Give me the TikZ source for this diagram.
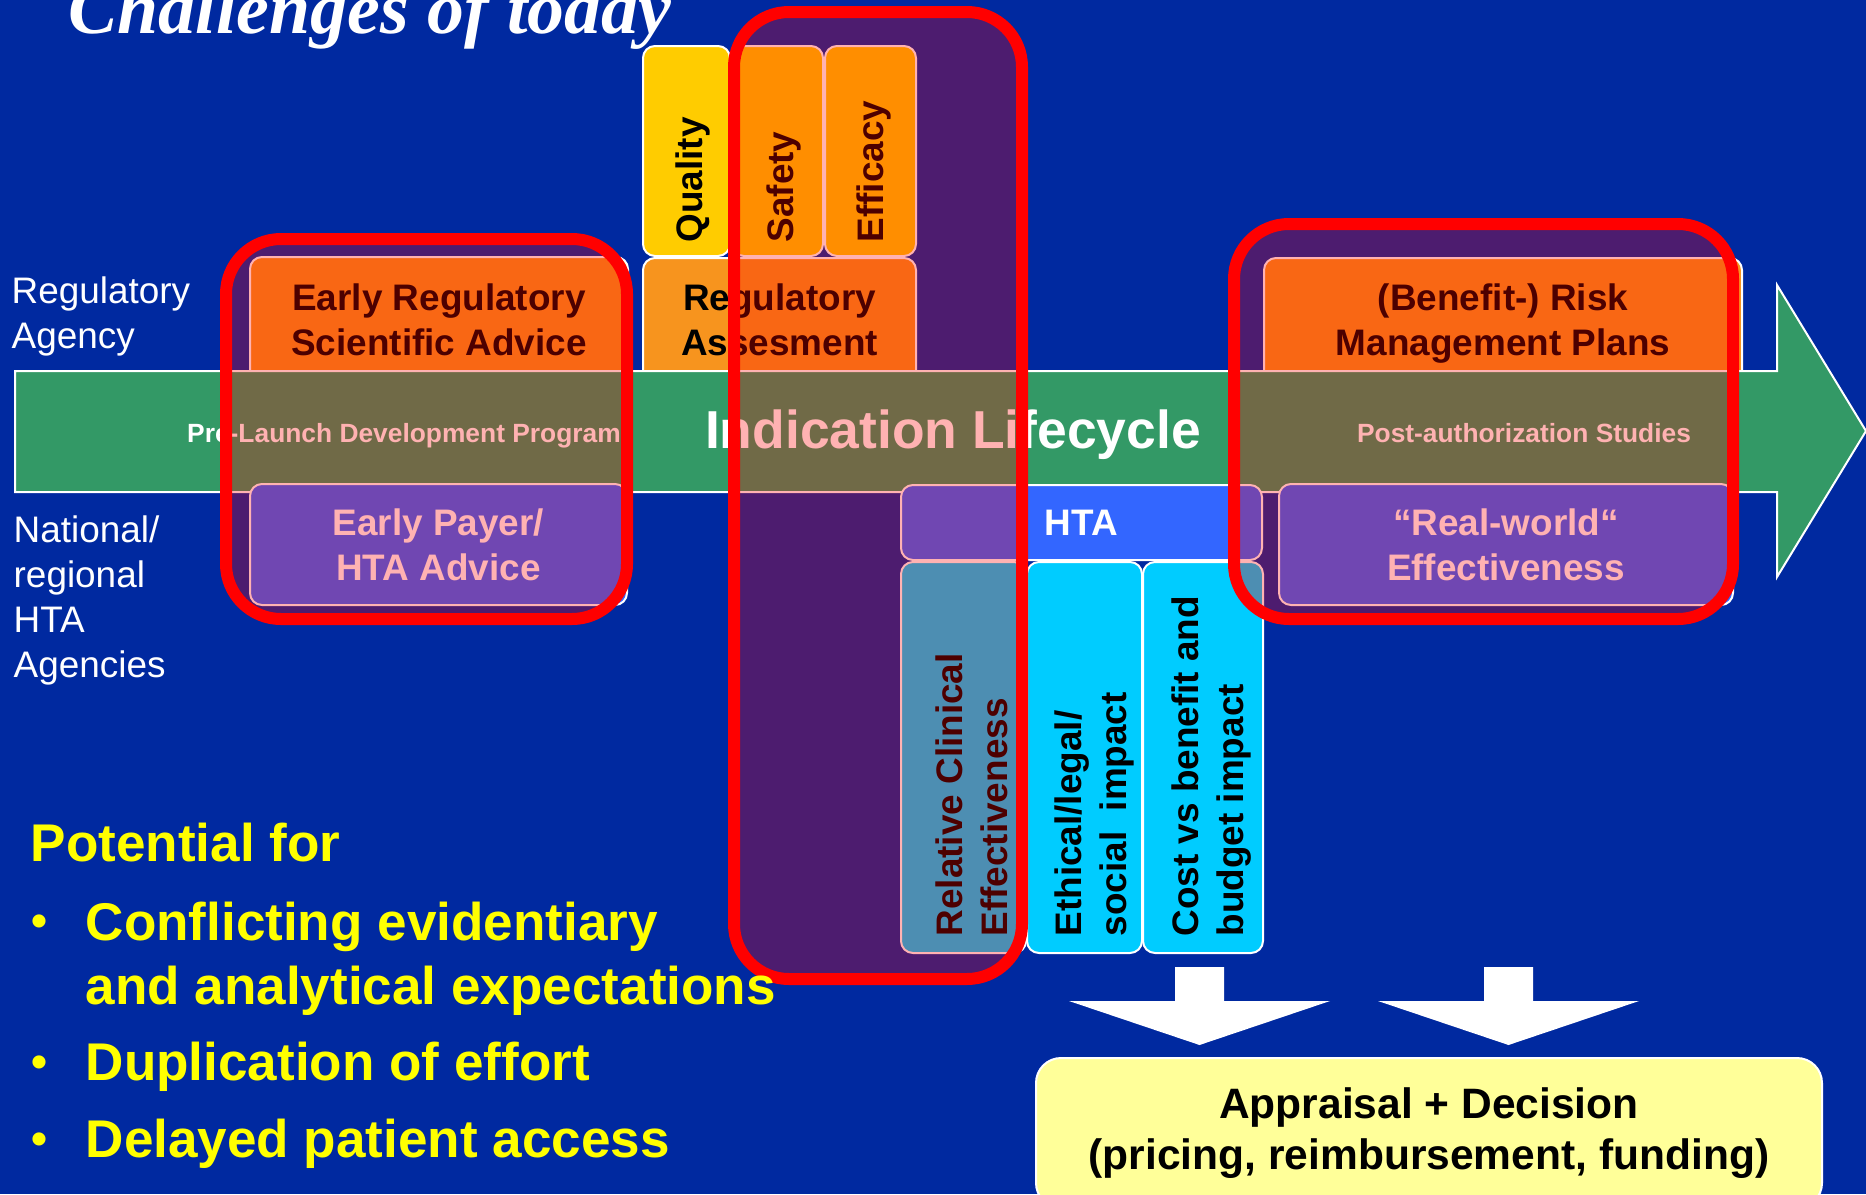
\documentclass[tikz,border=0pt]{standalone}
\usepackage{fontspec}
\setmainfont{Liberation Sans}
\newfontfamily\titlefont{Liberation Serif}
\usepackage{tikz}
\usetikzlibrary{positioning, calc}
\usepackage{xcolor}
\definecolor{slideBlue}{HTML}{0029A0}
\definecolor{lifeGreen}{HTML}{339966}
\definecolor{regOrange}{HTML}{F7941E}
\definecolor{regYellow}{HTML}{FFCC00}
\definecolor{htaBlue}{HTML}{3366FF}
\definecolor{htaCyan}{HTML}{00CCFF}
\definecolor{paleYellow}{HTML}{FFFF99}
\definecolor{textYellow}{HTML}{FFFF00}
\tikzset{
  node distance=0.2mm and 0.1mm,
  labeltxt/.style={text=white, font=\fontsize{10.5}{12.8}\selectfont, align=left, inner sep=0pt, anchor=north west},
  tile/.style={draw=white, line width=0.2mm, rounded corners=1.2mm, inner sep=0pt, outer sep=0pt, font=\fontsize{10.5}{12.8}\selectfont\bfseries, align=center},
  regbox/.style={tile, fill=regOrange, text=black},
  evbox/.style={tile, fill=regYellow, minimum height=21mm},
  htabox/.style={tile, fill=htaBlue, text=white},
  critbox/.style={tile, fill=htaCyan, minimum height=39.1mm},
  vtxt/.style={rotate=90, anchor=west, inner sep=0pt, font=\fontsize{10.5}{12.8}\selectfont\bfseries, align=left, text=black},
  bandtxt/.style={text=white, font=\fontsize{7.5}{9}\selectfont\bfseries, inner sep=0pt},
  hilite/.style={draw=red, line width=1.2mm, fill=red, fill opacity=0.3, rounded corners=5.5mm},
  pointtxt/.style={text=textYellow, font=\fontsize{15.1}{18.2}\selectfont\bfseries, align=left, inner sep=0pt}
}

\begin{document}
\begin{tikzpicture}[x=0.1mm, y=-0.1mm,
        lifearrow/.style={draw=white, line width=0.2mm, fill=lifeGreen},
        titletxt/.style={text=white, font=\titlefont\fontsize{21}{25}\selectfont\bfseries\itshape, inner sep=0pt}
        ]
        \useasboundingbox (0,0) rectangle (1866,1194);
        \clip (0,0) rectangle (1866,1194);
        \fill[slideBlue] (0,0) rectangle (1866,1194);

        \node[titletxt, anchor=base west] (title) at (68,33) {Challenges of today};
        \node[labeltxt] (regagency) at (11,276) {Regulatory\\Agency};
        \node[labeltxt] (htaagency) at (13,515) {National/\\regional\\HTA\\Agencies};

        % quality, safety, efficacy
        \node[evbox, minimum width=8.7mm] (quality) at (686.5,151) {};
        \node[evbox, minimum width=9.1mm, right=0.2mm of quality] (safety) {};
        \node[evbox, minimum width=9.1mm, right=0.2mm of safety] (efficacy) {};
        \node[vtxt] (qualitytxt) at ($(quality.south)+(6,-13)$) {Quality};
        \node[vtxt] (safetytxt) at ($(safety.south)+(6,-13)$) {Safety};
        \node[vtxt] (efficacytxt) at ($(efficacy.south)+(3,-13)$) {Efficacy};

        \node[regbox, minimum width=37.8mm, minimum height=12.6mm] (earlyreg) at (439,320) {Early Regulatory\\Scientific Advice};
        \node[regbox, minimum width=27.3mm, minimum height=12.4mm, below right=0.2mm and 0mm of quality.south west] (regassess) {Regulatory\\Assesment};
        \node[regbox, minimum width=47.8mm, minimum height=13.2mm] (riskplans) at (1503,324) {(Benefit-) Risk\\Management Plans};

        % lifecycle arrow
        \draw[lifearrow] (15,371) -- (1777,371) -- (1777,285) -- (1866,431) -- (1777,577) -- (1777,492) -- (15,492) -- cycle;
        \node[bandtxt] (prelaunch) at (404,436) {Pre-Launch Development Program};
        \node[text=white, font=\fontsize{15.2}{18}\selectfont\bfseries, inner sep=0pt] (lifecycle) at (953,435) {Indication Lifecycle};
        \node[bandtxt] (postauth) at (1524,433) {Post-authorization Studies};

        % HTA side
        \node[htabox, minimum width=37.7mm, minimum height=12.1mm] (earlypayer) at (438.5,544.5) {Early Payer/\\HTA Advice};
        \node[htabox, minimum width=36.1mm, minimum height=7.5mm] (hta) at (1081.5,522.5) {HTA};
        \node[htabox, minimum width=45.4mm, minimum height=12.1mm] (realworld) at (1506,544.5) {“Real-world“\\Effectiveness};
        \node[critbox, minimum width=12.5mm, below right=0.2mm and 0mm of hta.south west] (rce) {};
        \node[critbox, minimum width=11.5mm, right=of rce] (ethical) {};
        \node[critbox, minimum width=12mm, right=of ethical] (cost) {};
        \node[vtxt] (rcetxt) at ($(rce.south)+(8,-16)$) {Relative Clinical\\Effectiveness};
        \node[vtxt] (ethicaltxt) at ($(ethical.south)+(10,-16)$) {Ethical/legal/\\social\ \ impact};
        \node[vtxt] (costtxt) at ($(cost.south)+(9,-16)$) {Cost vs benefit and\\budget impact};

        \foreach \ax in {1199.5,1508.5}
          \fill[white] (\ax-24.5,967) -- (\ax+24.5,967) -- (\ax+24.5,1001) -- (\ax+130.5,1001) -- (\ax,1045) -- (\ax-130.5,1001) -- (\ax-24.5,1001) -- cycle;
        \node[tile, fill=paleYellow, rounded corners=2.5mm, minimum width=78.6mm, minimum height=15mm, font=\fontsize{12.1}{14.5}\selectfont\bfseries] (appraisal) at (1429,1133) {Appraisal + Decision\\(pricing, reimbursement, funding)};

        % red frames
        \draw[hilite] (226,239) rectangle (627,619);
        \draw[hilite] (734,12) rectangle (1022,979);
        \draw[hilite] (1234,224) rectangle (1733,619);

        \node[pointtxt, anchor=base west] (potential) at (30,861) {Potential for};
        \node[pointtxt, anchor=north west] (conflict) at (85,901) {Conflicting evidentiary\\and analytical expectations};
        \node[pointtxt, anchor=base west] (duplication) at (85,1080) {Duplication of effort};
        \node[pointtxt, anchor=base west] (delayed) at (85,1157) {Delayed patient access};
        \foreach \by [count=\i] in {939,1080,1157}
          \node[pointtxt, font=\fontsize{13}{14}\selectfont\bfseries, anchor=base west] (bullet\i) at (31,\by-3) {•};
      \end{tikzpicture}
\end{document}
